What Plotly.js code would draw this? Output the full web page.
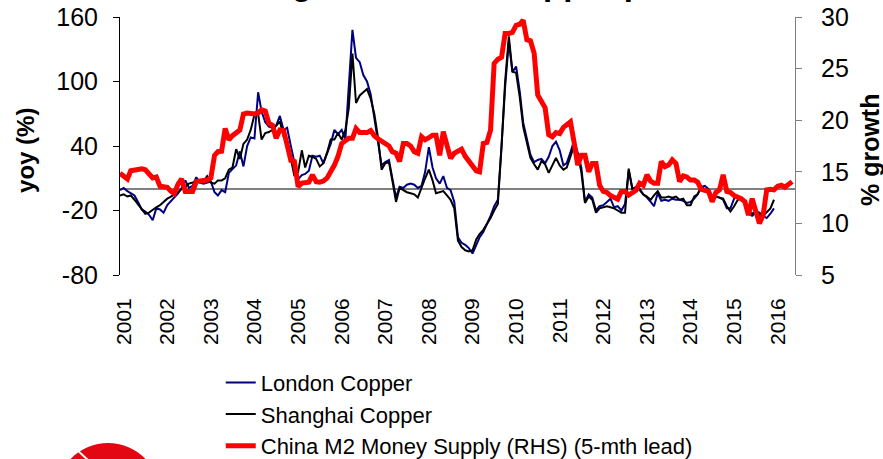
<!DOCTYPE html>
<html>
<head>
<meta charset="utf-8">
<script src="https://cdn.plot.ly/plotly-3.0.1.min.js"></script>
<style>html,body{margin:0;padding:0;background:#fff;}#chart{width:883px;height:459px;}</style>
</head>
<body>
<div id="chart"></div>
<script>
// Monthly data, first point Dec 2000
const seriesNames = ["London Copper", "Shanghai Copper", "China M2 Money Supply (RHS) (5-mth lead)"];
const yearTicks = ["2001","2002","2003","2004","2005","2006","2007","2008","2009","2010","2011","2012","2013","2014","2015","2016"];
const leftTicks = [-80, -20, 40, 100, 160];
const leftTickText = ["-80", "-20", "40", "100", "160"];
const rightTicks = [5, 10, 15, 20, 25, 30];

// London copper yoy (%), Dec 2000 - Dec 2015
const londonCopper = [
  -1,
  1,-2,-4,-6,-12,-19,-21,-24,-29,-18,-19,-22,
  -15,-11,-7,-4,1,8,1,3,11,6,5,6,
  7,-3,-6,-1,-3,15,18,22,35,21,40,48,
  47,90,72,62,58,57,59,68,55,57,40,26,
  9,13,14,17,31,30,31,24,34,42,55,51,
  55,46,95,148,122,118,106,100,88,66,45,22,
  25,27,10,-8,2,1,4,5,4,1,3,16,
  39,20,10,5,12,1,-1,-12,-45,-50,-52,-55,
  -60,-52,-45,-40,-33,-25,-16,-10,40,95,137,109,
  114,90,62,47,32,25,27,28,24,30,40,44,
  36,22,24,34,45,34,20,-12,-5,-8,-20,-16,
  -15,-12,-9,-17,-16,-20,-14,17,0,2,0,-5,
  -8,-12,-16,-4,-11,-10,-11,-9,-10,-10,-11,-13,
  -12,-9,-5,2,3,0,-7,-7,-8,-10,-18,-18,
  -9,-7,-10,-13,-23,-25,-22,-24,-25,-27,-23,-18
];

// Shanghai copper yoy (%), Dec 2000 - Dec 2015
const shanghaiCopper = [
  -6,
  -5,-7,-6,-10,-14,-18,-23,-22,-19,-17,-15,-12,
  -9,-7,-5,-3,0,2,5,6,7,7,7,12,
  6,5,8,8,10,18,20,37,28,42,46,55,
  69,70,46,52,53,55,59,63,49,42,28,12,
  16,36,20,31,30,28,21,24,34,46,46,52,
  46,55,75,126,80,87,90,93,84,70,48,18,
  24,25,8,-12,1,-1,-3,-4,-5,-8,2,10,
  18,8,-4,-3,-2,-6,-10,-18,-48,-54,-57,-58,
  -57,-47,-42,-38,-33,-27,-20,-14,40,100,142,109,
  108,85,58,44,29,23,18,26,23,15,22,29,
  22,18,20,30,40,32,16,-13,-7,-10,-22,-18,
  -17,-16,-17,-18,-20,-22,-22,19,0,1,-1,-5,
  -7,-10,-6,-2,-8,-8,-7,-8,-7,-10,-9,-15,
  -15,-7,-5,2,0,-3,-7,-7,-8,-9,-16,-21,
  -16,-10,-9,-12,-21,-23,-21,-22,-25,-22,-18,-10
];

// China M2 growth (%), shifted 5 months forward, Dec 2000 - May 2016
const m2Growth = [
  14.85,
  14.6,14.3,15.1,15.2,15.25,15.3,15.2,14.8,14.4,14.5,13.6,13.55,
  13.5,13.1,12.9,13.8,14.3,13.1,13.1,13.1,14.05,14.1,14.05,14.2,
  14.4,16.6,16.95,17.0,19.2,18.1,18.5,18.8,19.05,20.6,20.7,20.65,
  20.6,20.7,21.0,20.9,19.7,19.5,18.25,19.05,19.0,17.6,16.1,16.0,
  13.55,13.9,13.9,14.0,14.7,14.05,14.0,14.1,14.4,15.0,15.65,16.5,
  17.75,18.0,18.25,18.25,19.2,18.8,18.8,18.8,19.0,18.5,18.2,18.0,
  17.8,17.5,16.95,16.8,16.0,17.75,17.75,17.5,16.95,16.8,18.4,18.1,
  18.3,18.55,18.55,16.6,18.9,17.75,16.3,16.8,16.95,17.2,16.5,16.1,
  15.6,15.1,15.0,17.75,17.85,19.05,25.5,25.9,26.1,28.4,28.4,28.5,
  29.2,29.3,29.7,27.8,27.7,26.5,22.45,21.8,21.2,18.6,18.4,18.8,
  18.7,19.3,19.6,19.85,17.9,15.65,16.6,16.6,15.0,15.8,15.8,13.7,
  13.1,13.0,12.7,12.5,12.35,13.1,13.1,12.75,13.0,13.2,13.9,13.7,
  14.7,14.1,13.9,13.9,16.0,15.5,15.65,16.15,15.8,14.05,14.6,14.5,
  14.2,14.2,14.0,13.3,13.2,13.1,12.1,13.0,13.25,14.7,13.1,13.0,
  12.7,12.6,12.4,12.1,10.8,12.4,11.3,10.0,10.8,13.25,13.3,13.25,
  13.6,13.7,13.5,13.75,14.05
];

function monthDates(startYear, startMonth, n) {
  const out = [];
  let y = startYear, m = startMonth;
  for (let i = 0; i < n; i++) {
    out.push(y + "-" + String(m).padStart(2, "0") + "-01");
    m++; if (m > 12) { m = 1; y++; }
  }
  return out;
}
const copperDates = monthDates(2000, 12, londonCopper.length);
const m2Dates = monthDates(2000, 12, m2Growth.length);
const tickDates = yearTicks.map(function (y) { return y + "-01-01"; });

const FONT = "Arial, 'Liberation Sans', sans-serif";

const traces = [
  { x: copperDates, y: londonCopper, name: seriesNames[0], type: "scatter", mode: "lines",
    line: { color: "#000080", width: 2 }, yaxis: "y" },
  { x: copperDates, y: shanghaiCopper, name: seriesNames[1], type: "scatter", mode: "lines",
    line: { color: "#000000", width: 2 }, yaxis: "y" },
  { x: m2Dates, y: m2Growth, name: seriesNames[2], type: "scatter", mode: "lines",
    line: { color: "#ff0000", width: 5 }, yaxis: "y2" }
];

const layout = {
  width: 883, height: 459,
  margin: { l: 120, r: 88, t: 17, b: 184, autoexpand: false },
  paper_bgcolor: "#fff", plot_bgcolor: "#fff",
  font: { family: FONT, color: "#000" },
  showlegend: true,
  legend: {
    xref: "container", yref: "container",
    x: 0.25, y: 0.212, xanchor: "left", yanchor: "top",
    font: { size: 22, family: FONT, color: "#000" },
    bgcolor: "rgba(0,0,0,0)", tracegroupgap: 0
  },
  xaxis: {
    type: "date", range: ["2000-12-01", "2016-05-25"], automargin: false,
    tickmode: "array", tickvals: tickDates, ticktext: yearTicks,
    tickangle: -90, ticks: "", showline: false, showgrid: false, zeroline: false,
    tickfont: { size: 21, family: FONT, color: "#000" }, ticklabelstandoff: 18
  },
  yaxis: {
    range: [-80, 160], automargin: false, tickmode: "array", tickvals: leftTicks, ticktext: leftTickText,
    showline: true, linecolor: "#000", linewidth: 1,
    ticks: "outside", ticklen: 6, tickcolor: "#000",
    showgrid: false, zeroline: false,
    tickfont: { size: 25, family: FONT, color: "#000" }, ticklabelstandoff: 10
  },
  yaxis2: {
    overlaying: "y", side: "right", range: [5, 30], automargin: false,
    tickmode: "array", tickvals: rightTicks,
    showline: true, linecolor: "#808080", linewidth: 1,
    ticks: "outside", ticklen: 6, tickcolor: "#808080",
    showgrid: false, zeroline: false,
    tickfont: { size: 25, family: FONT, color: "#000" }, ticklabelstandoff: 14
  },
  shapes: [
    { type: "line", xref: "paper", x0: 0, x1: 1, yref: "y", y0: 0, y1: 0,
      line: { color: "#000", width: 1 }, layer: "below" },
    { type: "circle", xref: "paper", yref: "paper",
      x0: -0.0948, x1: 0.0593, y0: -1.054, y1: -0.651,
      fillcolor: "#e30613", line: { width: 0 } },
    { type: "line", xref: "paper", yref: "paper",
      x0: -0.0652, y0: -0.674, x1: -0.0444, y1: -0.725,
      line: { color: "#fff", width: 2 } }
  ],
  annotations: [
    { text: "<b>China M2 growth leads copper prices</b>", xref: "paper", yref: "paper",
      x: 0.0207, y: 1.05, xanchor: "left", yanchor: "bottom", showarrow: false,
      font: { size: 33, family: FONT, color: "#000" } },
    { text: "<b>yoy (%)</b>", xref: "paper", yref: "paper",
      x: -0.1393, y: 0.4845, xanchor: "center", yanchor: "middle", textangle: -90, showarrow: false,
      font: { size: 24, family: FONT, color: "#000" } },
    { text: "<b>% growth</b>", xref: "paper", yref: "paper",
      x: 1.111, y: 0.488, xanchor: "center", yanchor: "middle", textangle: -90, showarrow: false,
      font: { size: 25, family: FONT, color: "#000" } }
  ]
};

Plotly.newPlot("chart", traces, layout, { displayModeBar: false, staticPlot: true });
</script>
</body>
</html>
